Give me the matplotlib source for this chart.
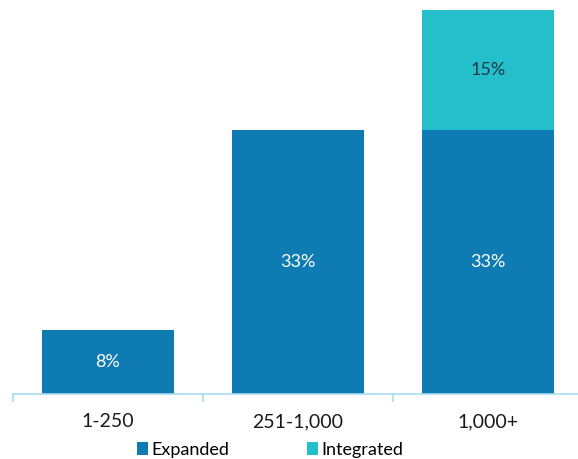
import matplotlib.pyplot as plt
import numpy as np

plt.rcParams['font.family'] = ['Lato', 'DejaVu Sans']

categories = ['1-250', '251-1,000', '1,000+']
expanded = [8, 33, 33]
integrated = [0, 0, 15]

c_exp = '#0e7bb3'
c_int = '#25bfcb'
c_axis = '#a9dcf2'

fig = plt.figure(figsize=(5.78, 4.59), dpi=100)
ax = fig.add_axes([13/578, 65/459, 565/578, 394/459])

x = np.arange(len(categories))
w = 0.69
b1 = ax.bar(x, expanded, w, color=c_exp, label='Expanded')
b2 = ax.bar(x, integrated, w, bottom=expanded, color=c_int, label='Integrated')

for xi, v in zip(x, expanded):
    if v:
        ax.text(xi, v / 2, f'{v}%', ha='center', va='center', color='white', fontsize=13)
for xi, b, v in zip(x, expanded, integrated):
    if v:
        ax.text(xi, b + v / 2, f'{v}%', ha='center', va='center', color='#1d3b47', fontsize=13)

ax.set_xlim(-0.5, -0.5 + 565/190)
ax.set_ylim(0, 394/8)

for s in ['top', 'right', 'left']:
    ax.spines[s].set_visible(False)
ax.spines['bottom'].set_color(c_axis)
ax.spines['bottom'].set_linewidth(1.2)
ax.set_yticks([])

ax.set_xticks(x)
ax.set_xticklabels(categories, fontsize=14, color='#1a1a1a')
ax.tick_params(axis='x', which='major', length=0, pad=14)
ax.set_xticks([-0.5, 0.5, 1.5], minor=True)
ax.tick_params(axis='x', which='minor', length=6, color=c_axis, width=1.2)

fig.legend(handles=[b1, b2], loc='center', bbox_to_anchor=(270/578, 1 - 450/459),
           ncol=2, frameon=False, fontsize=13, handlelength=0.6, handleheight=0.7,
           handletextpad=0.2, columnspacing=4.3)

fig.savefig('out.png', dpi=100)
